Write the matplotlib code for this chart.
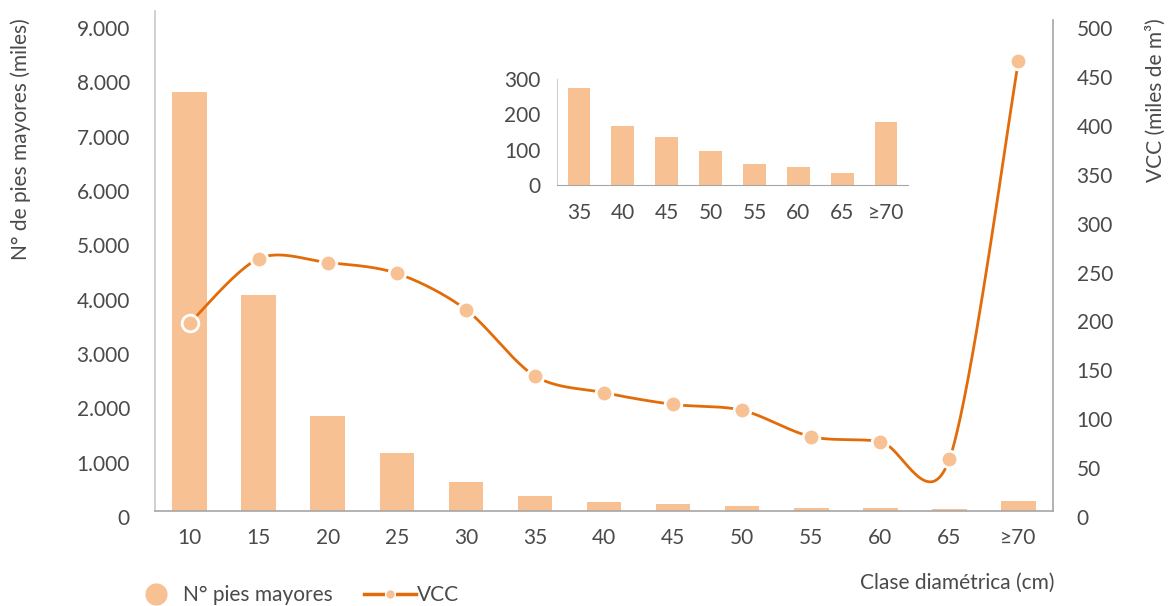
import numpy as np
import matplotlib
matplotlib.use("Agg")
import matplotlib.pyplot as plt
import matplotlib.transforms as mtransforms
from matplotlib.lines import Line2D

plt.rcParams["font.family"] = ["Lato", "DejaVu Sans"]

# diameter classes and stand totals
clases = ["10", "15", "20", "25", "30", "35", "40", "45", "50", "55", "60", "65", "≥70"]
pies_mayores = [7710, 3975, 1740, 1065, 535, 275, 167, 135, 96, 60, 50, 35, 177]
vcc = [192, 258, 254, 243, 206, 138, 121, 109, 103, 76, 71, 53, 460]

# zoomed view of the large classes
clases_inset = clases[5:]
pies_inset = pies_mayores[5:]

BAR = "#F8C194"
LINE = "#E36C0A"
TXT = "#4A4A4A"
W, H = 1170, 606


def smooth(x, y, n=40, k=1 / 6.5):
    # bezier through the points, like a spreadsheet "smoothed line"
    pts = np.column_stack([x, y]).astype(float)
    p = np.vstack([pts[0], pts, pts[-1]])
    out = []
    t = np.linspace(0, 1, n)[:, None]
    for i in range(1, len(p) - 2):
        p0, p3 = p[i], p[i + 1]
        c1 = p0 + (p[i + 1] - p[i - 1]) * k
        c2 = p3 - (p[i + 2] - p[i]) * k
        seg = ((1 - t) ** 3) * p0 + 3 * ((1 - t) ** 2) * t * c1 + 3 * (1 - t) * t ** 2 * c2 + t ** 3 * p3
        out.append(seg if i == 1 else seg[1:])
    out = np.vstack(out)
    return out[:, 0], out[:, 1]


fig = plt.figure(figsize=(W / 100, H / 100), dpi=100)
ax = fig.add_axes([155 / W, 1 - 511 / H, (1053 - 155) / W, (511 - 11) / H])
x = np.arange(len(clases))

ax.bar(x, pies_mayores, width=0.5, color=BAR, zorder=1)
ax.set_xlim(-0.5, len(clases) - 0.5)
ax.set_ylim(0, 9000 * 500 / 489)
ax.set_yticks(np.arange(0, 9001, 1000))
ax.set_yticklabels([f"{v:,}".replace(",", ".") for v in range(0, 9001, 1000)])
ax.set_xticks(x)
ax.set_xticklabels(clases)
ax.tick_params(axis="y", length=0, pad=18, labelsize=15, labelcolor=TXT)
ax.tick_params(axis="x", length=0, pad=12, labelsize=15, labelcolor=TXT)
for s in ["top", "right"]:
    ax.spines[s].set_visible(False)
ax.spines["left"].set_color("#C8C8C8")
ax.spines["bottom"].set_color("#A6A6A6")
ax.spines["left"].set_linewidth(1.2)
ax.spines["bottom"].set_linewidth(1.2)

shift = mtransforms.ScaledTranslation(0, -6 / 100, fig.dpi_scale_trans)
for lbl in ax.get_yticklabels():
    lbl.set_transform(lbl.get_transform() + shift)

ax2 = ax.twinx()
ax2.set_ylim(0, 500 * 500 / 489)
ax2.set_yticks(np.arange(0, 501, 50))
ax2.tick_params(axis="y", length=0, pad=17, labelsize=15, labelcolor=TXT)
for s in ["top", "left", "bottom"]:
    ax2.spines[s].set_visible(False)
ax2.spines["right"].set_color("#A6A6A6")
ax2.spines["right"].set_linewidth(1.2)
ax2.spines["right"].set_bounds(0, 502)
for lbl in ax2.get_yticklabels():
    lbl.set_transform(lbl.get_transform() + shift)

sx, sy = smooth(x, vcc)
ax2.plot(sx, sy, color=LINE, lw=2.0, zorder=2, solid_capstyle="butt")
ax2.plot(x, vcc, ls="none", marker="o", ms=12, mfc=BAR, mec="white", mew=2.0, zorder=3)

# inset with the large diameter classes
axi = fig.add_axes([557 / W, 1 - 185 / H, (908 - 557) / W, (185 - 79) / H])
xi = np.arange(len(clases_inset))
axi.bar(xi, pies_inset, width=0.52, color=BAR)
axi.set_xlim(-0.5, len(clases_inset) - 0.5)
axi.set_ylim(0, 300)
axi.set_yticks([0, 100, 200, 300])
axi.set_xticks(xi)
axi.set_xticklabels(clases_inset)
axi.tick_params(axis="y", length=0, pad=12, labelsize=15, labelcolor=TXT)
axi.tick_params(axis="x", length=0, pad=13, labelsize=15, labelcolor=TXT)
for s in ["top", "right"]:
    axi.spines[s].set_visible(False)
axi.spines["left"].set_color("#D0D0D0")
axi.spines["bottom"].set_color("#A6A6A6")
axi.patch.set_alpha(0)

fig.text(21 / W, 1 - 18 / H, "N° de pies mayores (miles)", rotation=90,
         ha="center", va="top", fontsize=15, color=TXT)
fig.text(1156 / W, 1 - 18 / H, "VCC (miles de m³)", rotation=90,
         ha="center", va="top", fontsize=15, color=TXT)
fig.text(1055 / W, 1 - 583 / H, "Clase diamétrica (cm)", ha="right", va="center",
         fontsize=15, color=TXT)

handles = [
    Line2D([], [], ls="none", marker="o", ms=15, mfc=BAR, mec=BAR),
    Line2D([], [], color=LINE, lw=2.5, marker="o", ms=7, mfc=BAR, mec="white", mew=1.0),
]
fig.legend(handles, ["N° pies mayores", "VCC"], loc="center left",
           bbox_to_anchor=(130 / W, 1 - 595 / H), ncol=2, frameon=False,
           fontsize=15, labelcolor=TXT, handlelength=2.5, handletextpad=0.05,
           columnspacing=1.5, borderpad=0, borderaxespad=0)

fig.savefig("out.png", dpi=100)
